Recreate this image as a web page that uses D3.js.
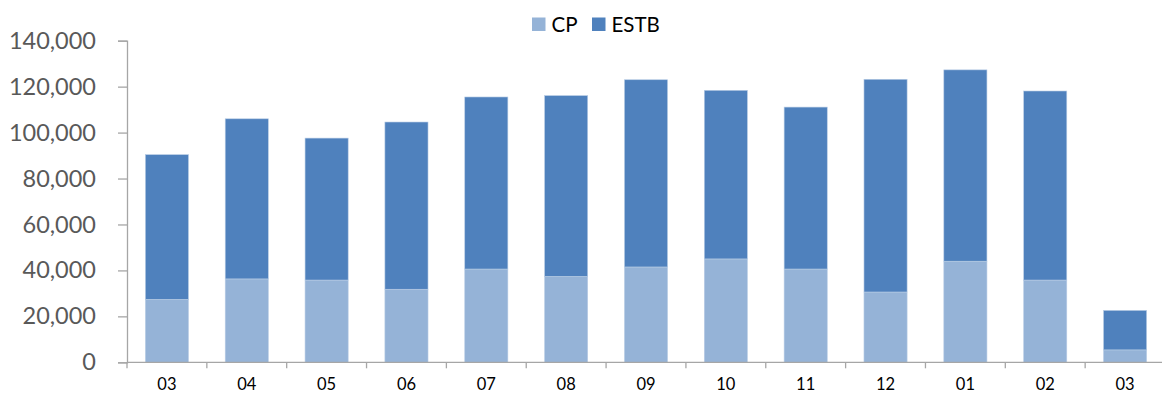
<!DOCTYPE html>
<html>
<head>
<meta charset="utf-8">
<script src="https://cdn.jsdelivr.net/npm/d3@7"></script>
<style>
  html, body { margin: 0; padding: 0; background: #fff; }
  svg { display: block; }
  text { font-family: Lato, "Open Sans", sans-serif; }
</style>
</head>
<body>
<svg id="chart" width="1162" height="394"></svg>
<script>
const categories = ["03","04","05","06","07","08","09","10","11","12","01","02","03"];
const cpValues   = [27400, 36300, 35800, 31800, 40600, 37400, 41500, 45000, 40600, 30600, 44000, 35800, 5400];
const estbValues = [63000, 69700, 61800, 72800, 74900, 78700, 81500, 73400, 70500, 92600, 83300, 82300, 17200];
const seriesNames = ["CP", "ESTB"];
const seriesColors = ["#95B3D7", "#4F81BD"];
const yTicks = [0, 20000, 40000, 60000, 80000, 100000, 120000, 140000];

(function () {
const svg = d3.select("#chart");
const mLeft = 127, mRight = 1165, mTop = 40.7, mBottom = 362.3;

const keys = categories.map((c, i) => i);
const x = d3.scaleBand().domain(keys).range([mLeft, mRight]).paddingInner(0.46).paddingOuter(0.23);
const xb = d3.scaleBand().domain(keys).range([mLeft, mRight]);
const y = d3.scaleLinear().domain([0, 140000]).range([mBottom, mTop]);

const rows = categories.map((c, i) => ({ i, CP: cpValues[i], ESTB: estbValues[i] }));
const stacked = d3.stack().keys(seriesNames)(rows);

const axisColor = "#A6A6A6";

// bars
svg.append("g").selectAll("g").data(stacked).join("g")
  .attr("fill", (d, k) => seriesColors[k])
  .selectAll("rect").data(d => d).join("rect")
  .attr("x", d => x(d.data.i))
  .attr("width", x.bandwidth())
  .attr("y", d => y(d[1]))
  .attr("height", d => y(d[0]) - y(d[1]))
  .attr("stroke", "#B9CDE5")
  .attr("stroke-width", 0.6);

// y axis
const yAxis = svg.append("g").attr("transform", `translate(${mLeft},0)`)
  .call(d3.axisLeft(y).tickValues(yTicks).tickSize(9).tickPadding(22)
    .tickFormat(d3.format(",")));
yAxis.select(".domain").attr("stroke", axisColor).attr("stroke-width", 1.3);
yAxis.selectAll(".tick line").attr("stroke", axisColor).attr("stroke-width", 1.3);
yAxis.selectAll(".tick text").attr("fill", "#595959").style("font-size", "23.5px")
  .style("font-family", "Lato, sans-serif");

// x axis
const xAxisG = svg.append("g").attr("transform", `translate(0,${mBottom})`);
xAxisG.append("line").attr("x1", mLeft).attr("x2", 1162).attr("y1", 0).attr("y2", 0)
  .attr("stroke", axisColor).attr("stroke-width", 1.3);
const boundaries = keys.map(k => xb(k)).concat([mRight]);
xAxisG.selectAll("line.tk").data(boundaries).join("line").attr("class", "tk")
  .attr("x1", d => d).attr("x2", d => d).attr("y1", 0).attr("y2", 6)
  .attr("stroke", axisColor).attr("stroke-width", 1.3);
xAxisG.selectAll("text").data(rows).join("text")
  .attr("x", d => xb(d.i) + xb.bandwidth() / 2)
  .attr("y", 28)
  .attr("text-anchor", "middle")
  .attr("fill", "#000")
  .style("font-size", "16.5px")
  .text(d => categories[d.i]);

// legend
const legend = svg.append("g");
const legendItems = [{ sx: 532, tx: 551.5 }, { sx: 592, tx: 611.5 }];
legendItems.forEach((it, k) => {
  legend.append("rect").attr("x", it.sx).attr("y", 17.5).attr("width", 13.5).attr("height", 13.5)
    .attr("fill", seriesColors[k]);
  legend.append("text").attr("x", it.tx).attr("y", 24.5).attr("dy", "0.35em")
    .attr("fill", "#000").style("font-size", "20.5px").text(seriesNames[k]);
});
})();
</script>
</body>
</html>
